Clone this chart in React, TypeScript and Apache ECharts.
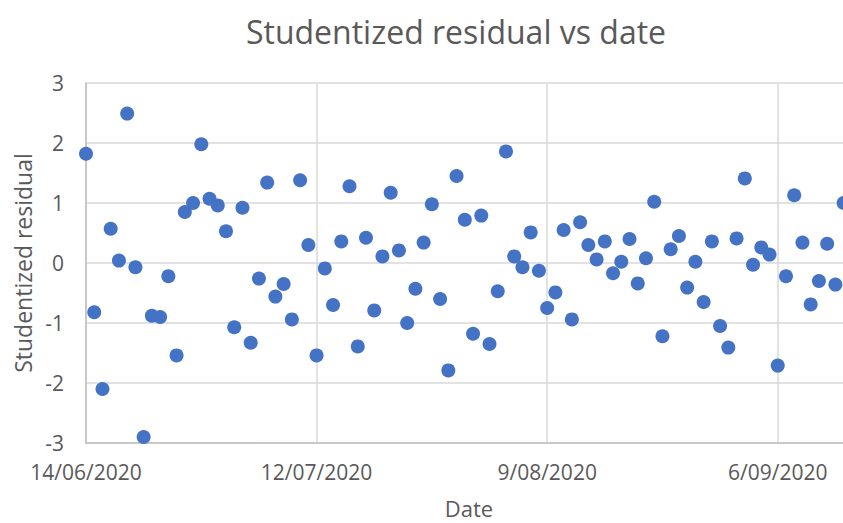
import React, { useEffect, useRef } from "react";
import * as echarts from "echarts";

const startDate = "2020-06-14";

const residuals: number[] = [
  1.82, -0.82, -2.1, 0.57, 0.04, 2.49, -0.07, -2.9, -0.88, -0.9,
  -0.22, -1.54, 0.85, 1.0, 1.98, 1.07, 0.96, 0.53, -1.07, 0.92,
  -1.33, -0.26, 1.34, -0.56, -0.35, -0.94, 1.38, 0.3, -1.54, -0.09,
  -0.7, 0.36, 1.28, -1.39, 0.42, -0.79, 0.11, 1.17, 0.21, -1.0,
  -0.43, 0.34, 0.98, -0.6, -1.79, 1.45, 0.72, -1.18, 0.79, -1.35,
  -0.47, 1.86, 0.11, -0.07, 0.51, -0.13, -0.75, -0.49, 0.55, -0.94,
  0.68, 0.3, 0.06, 0.36, -0.17, 0.02, 0.4, -0.34, 0.08, 1.02,
  -1.22, 0.23, 0.45, -0.41, 0.02, -0.65, 0.36, -1.05, -1.41, 0.41,
  1.41, -0.03, 0.26, 0.14, -1.71, -0.22, 1.13, 0.34, -0.69, -0.3,
  0.32, -0.36, 1.0,
];

const yTicks = [-3, -2, -1, 0, 1, 2, 3];
const xTickStepDays = 28;
const xMaxDays = 93;

const TEXT = "#595959";
const FONT = "Open Sans";
const DAY_MS = 86400000;

function dayLabel(offset: number): string {
  const base = Date.parse(startDate + "T00:00:00Z");
  const d = new Date(base + offset * DAY_MS);
  const dd = d.getUTCDate();
  const mm = String(d.getUTCMonth() + 1).padStart(2, "0");
  return `${dd}/${mm}/${d.getUTCFullYear()}`;
}

export default function App() {
  const ref = useRef<HTMLDivElement>(null);
  useEffect(() => {
    if (!ref.current) return;
    const chart = echarts.init(ref.current, undefined, { renderer: "svg" });
    const data = residuals.map((v, i) => [i, v]);
    chart.setOption({
      animation: false,
      backgroundColor: "#ffffff",
      textStyle: { fontFamily: FONT },
      title: {
        text: "Studentized residual vs date",
        left: 451,
        textAlign: "center",
        top: 10,
        textStyle: { fontFamily: FONT, fontSize: 32, fontWeight: "normal", color: TEXT },
      },
      grid: {
        left: 86,
        top: 83,
        width: xMaxDays * 8.235,
        bottom: 80,
        containLabel: false,
        outerBoundsMode: "none",
      },
      xAxis: {
        type: "value",
        min: 0,
        max: xMaxDays,
        interval: xTickStepDays,
        name: "Date",
        nameLocation: "middle",
        nameGap: 54,
        nameTextStyle: { fontFamily: FONT, fontSize: 22, lineHeight: 22, color: TEXT },
        axisLine: { show: true, onZero: false, lineStyle: { color: "#bfbfbf", width: 1.5 } },
        axisTick: { show: false },
        splitLine: { show: true, lineStyle: { color: "#d9d9d9", width: 1.5 } },
        axisLabel: {
          fontFamily: FONT,
          fontSize: 21,
          color: TEXT,
          margin: 18,
          showMaxLabel: false,
          formatter: (v: number) => dayLabel(v),
        },
      },
      yAxis: {
        type: "value",
        min: yTicks[0],
        max: yTicks[yTicks.length - 1],
        interval: 1,
        name: "Studentized residual",
        nameLocation: "middle",
        nameGap: 51,
        nameTextStyle: { fontFamily: FONT, fontSize: 23, color: TEXT },
        axisLine: { show: true, onZero: false, lineStyle: { color: "#bfbfbf", width: 1.5 } },
        axisTick: { show: false },
        splitLine: { show: true, lineStyle: { color: "#d9d9d9", width: 1.5 } },
        axisLabel: { fontFamily: FONT, fontSize: 21, color: TEXT, margin: 22 },
      },
      series: [
        {
          type: "scatter",
          data,
          symbol: "circle",
          symbolSize: 14,
          itemStyle: { color: "#4472C4", opacity: 1 },
          clip: false,
        },
      ],
    });
    return () => chart.dispose();
  }, []);
  return (
    <div
      ref={ref}
      style={{ position: "fixed", left: 0, top: 0, width: 843, height: 523, background: "#fff" }}
    />
  );
}
